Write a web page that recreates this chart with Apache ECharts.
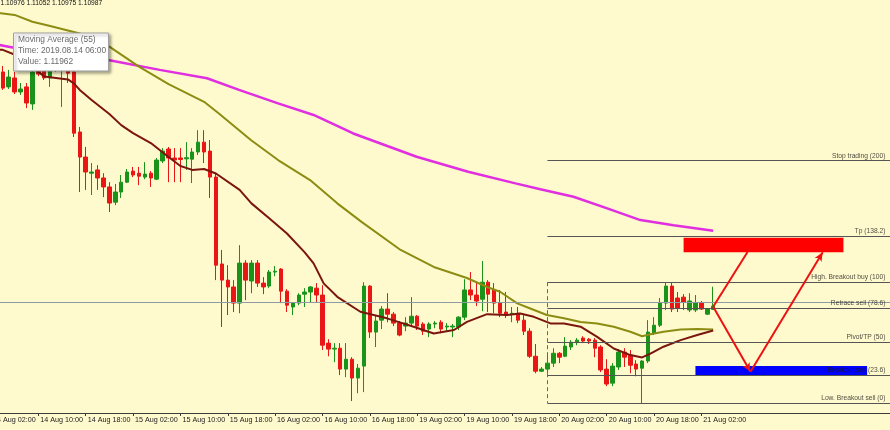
<!DOCTYPE html>
<html><head><meta charset="utf-8">
<script src="https://cdn.jsdelivr.net/npm/echarts/dist/echarts.min.js"></script>
<style>html,body{margin:0;padding:0;background:#FFFACD;overflow:hidden;width:890px;height:430px;position:relative;}
#c{position:absolute;left:-12.5px;top:0;width:906px;height:430px;}</style>
</head><body><div id="c"></div>
<script>
// ---- tick labels (x axis) ----
const tickLabels = ['14 Aug 02:00','14 Aug 10:00','14 Aug 18:00','15 Aug 02:00','15 Aug 10:00','15 Aug 18:00',
  '16 Aug 02:00','16 Aug 10:00','16 Aug 18:00','19 Aug 02:00','19 Aug 10:00','19 Aug 18:00',
  '20 Aug 02:00','20 Aug 10:00','20 Aug 18:00','21 Aug 02:00'];
const tradingDays = ['14 Aug','15 Aug','16 Aug','19 Aug','20 Aug','21 Aug','22 Aug'];
const barCount = 153; // includes empty future bars (chart shift area)

// ---- H1 candles (bars 0..122) ----
const open = [1.11778,1.11731,1.11771,1.11721,1.11751,1.11704,1.11721,1.11664,1.11798,1.11784,
1.11751,1.11791,1.11778,1.11788,1.11771,1.11570,1.11486,1.11432,1.11443,1.11416,
1.11386,1.11335,1.11369,1.11402,1.11439,1.11432,1.11419,1.11432,1.11412,1.11473,
1.11513,1.11483,1.11483,1.11480,1.11479,1.11503,1.11536,1.11506,1.11419,1.11128,
1.11074,1.11051,1.10997,1.11131,1.11071,1.11131,1.11064,1.11054,1.11101,1.11111,
1.11037,1.10984,1.10997,1.11027,1.11034,1.11047,1.11024,1.10863,1.10843,1.10846,
1.10776,1.10809,1.10746,1.10786,1.11054,1.10900,1.10940,1.10977,1.10960,1.10930,
1.10920,1.10930,1.10953,1.10927,1.10910,1.10927,1.10933,1.10917,1.10917,1.10917,
1.10950,1.11041,1.11024,1.11010,1.11067,1.11041,1.10997,1.10967,1.10960,1.10963,
1.10940,1.10903,1.10819,1.10769,1.10776,1.10796,1.10829,1.10819,1.10850,1.10866,
1.10880,1.10876,1.10873,1.10850,1.10776,1.10729,1.10783,1.10833,1.10823,1.10793,
1.10779,1.10803,1.10896,1.10923,1.10997,1.11054,1.11014,1.11017,1.10974,1.10974,
1.10997,1.10960,1.10976];
const close = [1.11737,1.11764,1.11717,1.11754,1.11704,1.11714,1.11667,1.11771,1.11764,1.11751,
1.11798,1.11818,1.11824,1.11767,1.11566,1.11486,1.11436,1.11436,1.11416,1.11386,
1.11332,1.11369,1.11402,1.11436,1.11426,1.11422,1.11429,1.11416,1.11476,1.11506,
1.11483,1.11476,1.11478,1.11484,1.11503,1.11536,1.11503,1.11419,1.11124,1.11074,
1.11051,1.10997,1.11131,1.11074,1.11131,1.11064,1.11051,1.11101,1.11104,1.11037,
1.10990,1.10997,1.11024,1.11034,1.11051,1.11024,1.10856,1.10843,1.10846,1.10776,
1.10809,1.10746,1.10779,1.11054,1.10900,1.10937,1.10977,1.10960,1.10930,1.10890,
1.10930,1.10953,1.10920,1.10903,1.10927,1.10930,1.10910,1.10920,1.10920,1.10950,
1.11041,1.11024,1.11004,1.11067,1.11027,1.10997,1.10963,1.10957,1.10963,1.10940,
1.10903,1.10819,1.10769,1.10776,1.10796,1.10829,1.10816,1.10853,1.10866,1.10873,
1.10870,1.10870,1.10846,1.10773,1.10726,1.10786,1.10833,1.10816,1.10789,1.10776,
1.10803,1.10900,1.10923,1.10997,1.11054,1.10977,1.10980,1.11000,1.11004,1.10997,
1.10977,1.10977,1.10987];
const low = [1.11717,1.11717,1.11711,1.11714,1.11697,1.11694,1.11650,1.11644,1.11757,1.11744,
1.11721,1.11771,1.11654,1.11734,1.11553,1.11369,1.11376,1.11359,1.11376,1.11352,
1.11302,1.11325,1.11349,1.11399,1.11419,1.11392,1.11412,1.11386,1.11409,1.11466,
1.11402,1.11402,1.11402,1.11443,1.11399,1.11493,1.11466,1.11349,1.11074,1.10917,
1.10957,1.10967,1.10963,1.11007,1.11030,1.11051,1.11027,1.11047,1.11087,1.10997,
1.10967,1.10957,1.10990,1.10984,1.11000,1.11000,1.10840,1.10819,1.10799,1.10756,
1.10749,1.10669,1.10695,1.10699,1.10880,1.10850,1.10910,1.10933,1.10920,1.10886,
1.10903,1.10920,1.10907,1.10890,1.10883,1.10913,1.10896,1.10903,1.10883,1.10907,
1.10940,1.11007,1.10987,1.10970,1.10967,1.10963,1.10950,1.10947,1.10933,1.10930,
1.10890,1.10813,1.10762,1.10766,1.10762,1.10783,1.10796,1.10816,1.10840,1.10856,
1.10863,1.10860,1.10816,1.10766,1.10719,1.10719,1.10773,1.10783,1.10762,1.10752,
1.10662,1.10796,1.10890,1.10917,1.10974,1.10967,1.10967,1.10974,1.10967,1.10967,
1.10974,1.10957,1.10975];
const high = [1.11804,1.11778,1.11791,1.11778,1.11771,1.11734,1.11734,1.11781,1.11824,1.11818,
1.11824,1.11845,1.11845,1.11818,1.11784,1.11587,1.11520,1.11466,1.11459,1.11432,
1.11402,1.11396,1.11426,1.11446,1.11453,1.11453,1.11469,1.11439,1.11483,1.11516,
1.11520,1.11516,1.11516,1.11536,1.11516,1.11576,1.11576,1.11543,1.11432,1.11175,
1.11124,1.11074,1.11191,1.11141,1.11141,1.11141,1.11084,1.11108,1.11121,1.11114,
1.11044,1.11000,1.11030,1.11047,1.11054,1.11064,1.11057,1.10876,1.10863,1.10863,
1.10863,1.10816,1.10793,1.11067,1.11057,1.10957,1.10987,1.11030,1.10967,1.10937,
1.10950,1.11017,1.10957,1.10933,1.10933,1.10937,1.10940,1.10930,1.10927,1.10953,
1.11077,1.11101,1.11067,1.11138,1.11074,1.11064,1.11041,1.11034,1.10984,1.10984,
1.10957,1.10913,1.10860,1.10783,1.10823,1.10846,1.10833,1.10883,1.10873,1.10880,
1.10886,1.10880,1.10880,1.10856,1.10809,1.10796,1.10843,1.10846,1.10840,1.10806,
1.10806,1.10940,1.10950,1.11014,1.11067,1.11067,1.11034,1.11027,1.11030,1.11024,
1.11004,1.10980,1.11052];

// ---- moving averages: [bar index, price] ----
const maFast = [[1,1.11845],[2,1.11845],[5,1.11821],[7,1.11788],[9,1.11756],[11,1.11751],[13,1.11746],[14,1.11733],
[15,1.11711],[17,1.11677],[20,1.11630],[22,1.11593],[24,1.11566],[27,1.11533],[30,1.11486],[32,1.11456],
[34,1.11443],[36,1.11446],[38,1.11431],[42,1.11376],[44,1.11331],[47,1.11281],[50,1.11230],[53,1.11167],
[54.5,1.11130],[56.2,1.11063],[58.5,1.11018],[62.4,1.10968],[66.9,1.10946],[71.4,1.10918],[74.8,1.10895],
[78.2,1.10907],[80.4,1.10934],[83.8,1.10960],[87.2,1.10957],[89.4,1.10962],[91.7,1.10951],[94.5,1.10929],
[96.8,1.10929],[99.6,1.10918],[102.4,1.10884],[105.2,1.10845],[108,1.10823],[110,1.10815],[111.4,1.10828],
[113.6,1.10851],[116.5,1.10873],[119.3,1.10890],[122,1.10905]];
const ma55 = [[1,1.11969],[4,1.11962],[7,1.11939],[10,1.11925],[15,1.11900],[20,1.11856],[25,1.11789],[30,1.11730],
[36,1.11671],[38.5,1.11632],[43.9,1.11543],[48.5,1.11476],[53.9,1.11409],[58.5,1.11331],[62.6,1.11269],[69.2,1.11175],
[74.8,1.11118],[80.4,1.11081],[83.8,1.11051],[86,1.11035],[88.9,1.10996],[91.1,1.10979],[93.9,1.10957],
[96.8,1.10946],[99.6,1.10934],[102.4,1.10929],[105.2,1.10918],[108,1.10901],[110,1.10886],[111.4,1.10893],
[113.6,1.10901],[116.5,1.10909],[119.3,1.10910],[122,1.10909]];
const ma200 = [[1,1.11863],[4.1,1.11851],[19.8,1.11811],[28.5,1.11778],[36.5,1.11750],[41.9,1.11711],[48.5,1.11666],
[54.5,1.11627],[61.2,1.11565],[71.9,1.11487],[80.6,1.11437],[88.6,1.11398],[92.8,1.11378],[98.4,1.11353],
[104.1,1.11314],[109.7,1.11275],[115.3,1.11258],[122,1.11239]];

// ---- Fibonacci levels (anchored at bar 94) ----
const fibNames  = ['Low. Breakout sell (0)','Breakout sell (23.6)','Pivot/TP (50)','Retrace sell (78.6)','High. Breakout buy (100)','Tp (138.2)','Stop trading (200)'];
const fibPrices = [1.10662,1.10757,1.10865,1.10980,1.11067,1.11221,1.11474];
const fibStartBar = 94;
const bidPrice = 1.10987;

// ---- drawn objects ----
const zones = [
  {from:117, to:144, top:1.11216, bottom:1.11167, color:'#FF0000'},
  {from:119, to:148, top:1.10786, bottom:1.10756, color:'#0000FF'}
];
const arrows = [ // [barFrom, priceFrom, barTo, priceTo, arrowhead]
  [122,1.10985,127.8,1.11168,false],
  [122,1.10985,128.3,1.10767,true],
  [128.3,1.10767,140.5,1.11167,true]
];

// ---- build ----
const times = [];
tradingDays.forEach((d, k) => { for (let h = (k === 0 ? 2 : 0); h < 24; h++) times.push(d + ' ' + String(h).padStart(2,'0') + ':00'); });
times.length = barCount;
const tickSet = new Set(tickLabels);
const showTick = (i, v) => tickSet.has(v);
const candles = open.map((o, i) => [o, close[i], low[i], high[i]]);
const F = '"Liberation Sans", Arial, sans-serif';
const OX = 12.5; // container is shifted left by this many pixels

const chart = echarts.init(document.getElementById('c'), null, {renderer:'canvas'});
chart.setOption({
  backgroundColor: '#FFFACD',
  animation: false,
  grid: {left: 0, top: 0, right: 0.24, height: 413},
  xAxis: [
    {type:'category', data: times, boundaryGap: true,
     axisLine:{lineStyle:{color:'#3c3c3c', width:1}},
     axisTick:{show:true, alignWithLabel:true, interval: showTick, length:3, lineStyle:{color:'#3c3c3c'}},
     axisLabel:{interval: showTick, align:'left', margin:4, padding:[0,0,0,2], fontSize:7.2, color:'#222', fontFamily:F},
     splitLine:{show:false}},
    {type:'value', min:-0.5, max:barCount-0.5, show:false}
  ],
  yAxis: {type:'value', min:1.10629, max:1.12012, show:false, splitLine:{show:false}},
  series: [
    {type:'line', xAxisIndex:1, data:[], silent:true, z:1,
     markArea:{silent:true, data: zones.map(z => [
       {coord:[z.from, z.top], itemStyle:{color:z.color, opacity:1}},
       {coord:[z.to, z.bottom]}])}},
    {type:'line', xAxisIndex:1, data:[], silent:true, z:2,
     markLine:{silent:true, symbol:['none','none'], label:{show:false},
       lineStyle:{color:'#555', width:1, type:'solid'},
       data: fibPrices.map(p => [{coord:[fibStartBar, p]}, {coord:[barCount-0.5, p]}]).concat([
         [{coord:[fibStartBar, fibPrices[4]], lineStyle:{type:[4,3], color:'#666'}}, {coord:[fibStartBar, fibPrices[0]]}]
       ])}},
    {type:'candlestick', xAxisIndex:0, data: candles, barWidth:4, z:3,
     itemStyle:{color:'#1A931A', color0:'#EA1616', borderColor:'#1A931A', borderColor0:'#EA1616', borderWidth:1},
     markLine:{silent:true, symbol:['none','none'], label:{show:false},
       lineStyle:{color:'#8E9AA6', width:1, type:'solid'}, data:[{yAxis: bidPrice}]}},
    {type:'line', xAxisIndex:1, data: ma200, showSymbol:false, z:4, lineStyle:{color:'#E02EE0', width:2.5}},
    {type:'line', xAxisIndex:1, data: ma55, showSymbol:false, z:4, lineStyle:{color:'#8C8C12', width:2}},
    {type:'line', xAxisIndex:1, data: maFast, showSymbol:false, z:4, lineStyle:{color:'#7A160F', width:2}},
    {type:'line', xAxisIndex:1, data:[], silent:true, z:5,
     markLine:{silent:true, label:{show:false}, lineStyle:{color:'#EE1111', width:2, type:'solid'},
       data: arrows.map(a => [
         {coord:[a[0], a[1]], symbol:'none'},
         {coord:[a[2], a[3]], symbol: a[4] ? 'arrow' : 'none', symbolSize:[6,9]}])}},
    {type:'scatter', xAxisIndex:1, symbolSize:0, silent:true, z:6,
     data: fibPrices.map((p, k) => ({name: fibNames[k], value:[151.1, p]})),
     label:{show:true, position:'left', distance:0, offset:[0,-5], formatter:'{b}', fontSize:6.7, color:'#1a1a1a', fontFamily:F}}
  ],
  graphic: [
    {type:'text', x:OX, y:0, z:100, style:{text:'1.10976 1.11052 1.10975 1.10987', font:'6.7px ' + F, fill:'#111'}},
    {type:'rect', x:OX + 13, y:33, z:100, shape:{x:0, y:0, width:95, height:38},
     style:{fill:'#ffffff', stroke:'#a0a0a0', lineWidth:1, shadowBlur:3, shadowOffsetX:2, shadowOffsetY:2, shadowColor:'rgba(0,0,0,0.35)'}},
    {type:'text', x:OX + 17.5, y:35.5, z:101, style:{text:'Moving Average (55)', font:'8.4px ' + F, fill:'#6a6a6a'}},
    {type:'text', x:OX + 17.5, y:46.5, z:101, style:{text:'Time: 2019.08.14 06:00', font:'8.4px ' + F, fill:'#6a6a6a'}},
    {type:'text', x:OX + 17.5, y:57.5, z:101, style:{text:'Value: 1.11962', font:'8.4px ' + F, fill:'#6a6a6a'}}
  ]
});
</script>
</body></html>
